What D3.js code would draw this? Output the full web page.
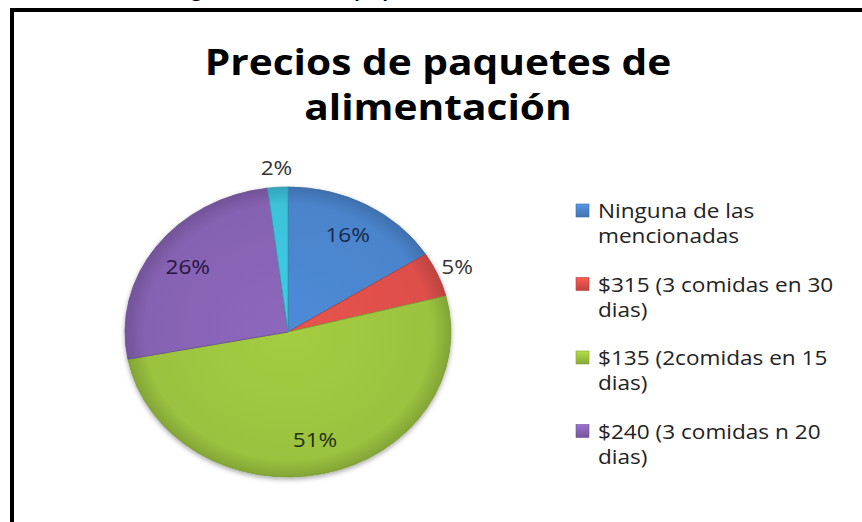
<!DOCTYPE html>
<html>
<head>
<meta charset="utf-8">
<script src="https://cdn.jsdelivr.net/npm/d3@7"></script>
<style>
  body { margin: 0; background: #fff; }
  svg { display: block; }
</style>
</head>
<body>
<script>
// chart data
var categories = ["Ninguna de las mencionadas", "$315 (3 comidas en 30 dias)", "$135 (2comidas en 15 dias)", "$240 (3 comidas n 20 dias)", "Otro"];
var values = [16, 5, 51, 26, 2];
var legendLines = [["Ninguna de las", "mencionadas"], ["$315 (3 comidas en 30", "dias)"], ["$135 (2comidas en 15", "dias)"], ["$240 (3 comidas n 20", "dias)"]];
var titleLines = ["Precios de paquetes de", "alimentación"];

var W = 862, H = 522;
var cx = 288, cy = 332, ry = 145, stretch = 1.124;
var textStretch = 1.13; // the original picture is widened a bit

var baseColors = ["#4a84cc", "#dd4f4a", "#9bc23f", "#8662b3", "#3cc2da"];
var labelColors = ["#17294a", "#333333", "#1f3010", "#261640", "#333333"];

var svg = d3.select("body").append("svg")
    .attr("width", W)
    .attr("height", H);

var defs = svg.append("defs");

// soft shadow under the pie
var shadow = defs.append("filter").attr("id", "shadow")
    .attr("x", "-10%").attr("y", "-10%").attr("width", "120%").attr("height", "125%");
shadow.append("feDropShadow")
    .attr("dx", 0).attr("dy", 2).attr("stdDeviation", 2.5)
    .attr("flood-color", "#000").attr("flood-opacity", 0.35);

// radial gradients, lighter inside, darker at the rim
baseColors.forEach(function(c, i) {
  var g = defs.append("radialGradient")
      .attr("id", "grad" + i)
      .attr("gradientUnits", "userSpaceOnUse")
      .attr("cx", 0).attr("cy", 0).attr("r", ry);
  g.append("stop").attr("offset", "0%").attr("stop-color", d3.color(c).brighter(0.15));
  g.append("stop").attr("offset", "88%").attr("stop-color", c);
  g.append("stop").attr("offset", "100%").attr("stop-color", d3.color(c).darker(0.45));

  var lg = defs.append("linearGradient")
      .attr("id", "leg" + i)
      .attr("x1", 0).attr("y1", 0).attr("x2", 0).attr("y2", 1);
  lg.append("stop").attr("offset", "0%").attr("stop-color", d3.color(c).brighter(0.4));
  lg.append("stop").attr("offset", "100%").attr("stop-color", d3.color(c).darker(0.4));
});

function place(x, y) {
  return "translate(" + x + "," + y + ") scale(" + textStretch + ",1)";
}

// frame (left and top edges visible)
svg.append("path")
    .attr("d", "M12,522 L12,10 L862,10")
    .attr("fill", "none")
    .attr("stroke", "#000")
    .attr("stroke-width", 4);

// caption cut off above the frame
svg.append("text")
    .attr("transform", place(176, -3))
    .style("font-family", "'Open Sans', sans-serif")
    .style("font-weight", "bold")
    .style("font-size", "16px")
    .attr("fill", "#000")
    .text("Figura 3. Precios de paquetes de alimentación");

// title
svg.selectAll("text.title")
    .data(titleLines)
    .enter().append("text")
    .attr("class", "title")
    .attr("transform", function(d, i) { return place(438, 75 + i * 45); })
    .attr("text-anchor", "middle")
    .style("font-family", "'Open Sans', sans-serif")
    .style("font-weight", "bold")
    .style("font-size", "36px")
    .attr("fill", "#000")
    .text(function(d) { return d; });

// pie
var pie = d3.pie().sort(null).value(function(d) { return d; });
var arcs = pie(values);
var arc = d3.arc().innerRadius(0).outerRadius(ry);

var pieG = svg.append("g")
    .attr("transform", "translate(" + cx + "," + cy + ") scale(" + stretch + ",1)")
    .attr("filter", "url(#shadow)");

pieG.selectAll("path")
    .data(arcs)
    .enter().append("path")
    .attr("d", arc)
    .attr("fill", function(d, i) { return "url(#grad" + i + ")"; })
    .attr("stroke", function(d, i) { return d3.color(baseColors[i]).darker(0.6); })
    .attr("stroke-width", 0.8);

// data labels
var inner = d3.arc().innerRadius(ry * 0.76).outerRadius(ry * 0.76);
var outer = d3.arc().innerRadius(ry * 1.13).outerRadius(ry * 1.13);

function labelPos(d) {
  var p = d.data < 10 ? outer.centroid(d) : inner.centroid(d);
  return [cx + p[0] * stretch, cy + p[1]];
}

svg.selectAll("text.label")
    .data(arcs)
    .enter().append("text")
    .attr("class", "label")
    .attr("transform", function(d) { var p = labelPos(d); return place(p[0], p[1]); })
    .attr("dy", "0.35em")
    .attr("text-anchor", "middle")
    .style("font-family", "'Open Sans', sans-serif")
    .style("font-size", "20px")
    .attr("fill", function(d, i) { return labelColors[i]; })
    .text(function(d) { return d.data + "%"; });

// legend
var legend = svg.selectAll("g.legend")
    .data(legendLines)
    .enter().append("g")
    .attr("class", "legend")
    .attr("transform", function(d, i) { return "translate(576," + (218 + i * 73.5) + ")"; });

legend.append("rect")
    .attr("x", 0)
    .attr("y", -14)
    .attr("width", 13)
    .attr("height", 13)
    .attr("fill", function(d, i) { return "url(#leg" + i + ")"; })
    .attr("stroke", function(d, i) { return d3.color(baseColors[i]).darker(0.5); })
    .attr("stroke-width", 0.6);

legend.each(function(lines) {
  d3.select(this).selectAll("text")
      .data(lines)
      .enter().append("text")
      .attr("transform", function(d, j) { return place(22, j * 25); })
      .style("font-family", "'Open Sans', sans-serif")
      .style("font-size", "20px")
      .attr("fill", "#222")
      .text(function(d) { return d; });
});
</script>
</body>
</html>
